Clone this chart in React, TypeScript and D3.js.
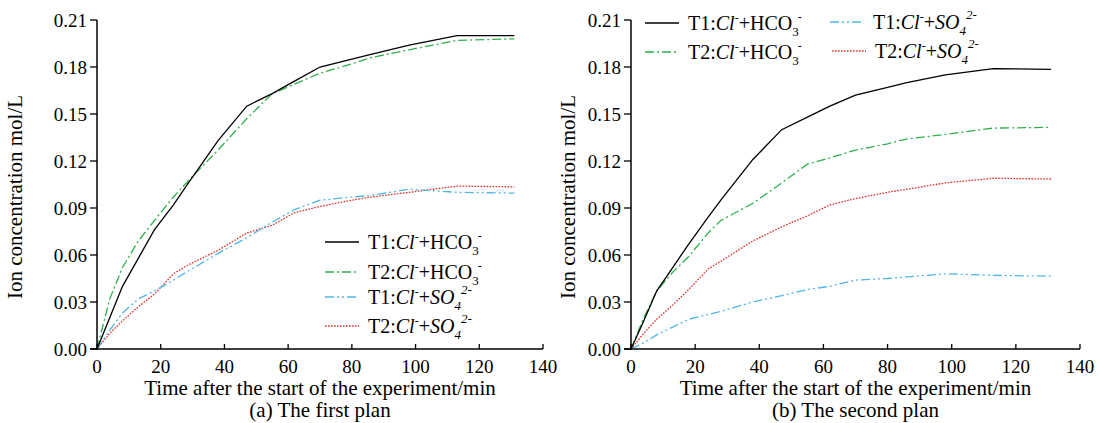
import React from "react";
import * as d3 from "d3";

const times = [0, 4, 8, 13, 18, 24, 28, 38, 47, 55, 62, 70, 80, 86, 98, 113, 131];

const aT1HCO3 = [0, 0.020, 0.040, 0.058, 0.076, 0.092, 0.104, 0.133, 0.155, 0.163, 0.171, 0.180, 0.185, 0.188, 0.194, 0.200, 0.200];
const aT2HCO3 = [0, 0.032, 0.052, 0.069, 0.082, 0.097, 0.106, 0.127, 0.147, 0.163, 0.169, 0.176, 0.182, 0.186, 0.191, 0.197, 0.198];
const aT1SO4 = [0, 0.012, 0.023, 0.032, 0.037, 0.044, 0.049, 0.061, 0.071, 0.081, 0.089, 0.095, 0.097, 0.098, 0.102, 0.100, 0.0995];
const aT2SO4 = [0, 0.010, 0.018, 0.027, 0.035, 0.048, 0.053, 0.063, 0.074, 0.079, 0.087, 0.091, 0.095, 0.097, 0.100, 0.104, 0.1035];

const bT1HCO3 = [0, 0.018, 0.037, 0.052, 0.067, 0.084, 0.095, 0.121, 0.140, 0.148, 0.155, 0.162, 0.167, 0.170, 0.175, 0.179, 0.1785];
const bT2HCO3 = [0, 0.020, 0.037, 0.049, 0.059, 0.074, 0.082, 0.093, 0.106, 0.118, 0.122, 0.127, 0.131, 0.134, 0.137, 0.141, 0.1415];
const bT1SO4 = [0, 0.004, 0.009, 0.014, 0.019, 0.022, 0.024, 0.030, 0.034, 0.038, 0.040, 0.044, 0.045, 0.046, 0.048, 0.047, 0.0465];
const bT2SO4 = [0, 0.010, 0.019, 0.028, 0.038, 0.051, 0.056, 0.069, 0.078, 0.085, 0.092, 0.096, 0.100, 0.102, 0.106, 0.109, 0.1085];

const xTicks = [0, 20, 40, 60, 80, 100, 120, 140];
const yTicks = [0, 0.03, 0.06, 0.09, 0.12, 0.15, 0.18, 0.21];

const FONT = "'Liberation Serif', 'Times New Roman', serif";

const styles = {
  t1hco3: { stroke: "#000000", dash: "" },
  t2hco3: { stroke: "#2db04b", dash: "9,3,2,3" },
  t1so4: { stroke: "#4fb6e6", dash: "9,3,2,3,2,3" },
  t2so4: { stroke: "#e0302c", dash: "1.6,1.4" },
};

type Key = keyof typeof styles;

function LegendLabel({ x, y, t, ion }: { x: number; y: number; t: string; ion: "hco3" | "so4" }) {
  if (ion === "hco3") {
    return (
      <text x={x} y={y} fontSize={20} fontFamily={FONT} fill="#000">
        <tspan>{t}:</tspan>
        <tspan fontStyle="italic">Cl</tspan>
        <tspan dy={-8} fontSize={12}>-</tspan>
        <tspan dy={8}>+HCO</tspan>
        <tspan dy={6} fontSize={13}>3</tspan>
        <tspan dy={-15} dx={-1} fontSize={12}>-</tspan>
      </text>
    );
  }
  return (
    <text x={x} y={y} fontSize={20} fontFamily={FONT} fill="#000">
      <tspan>{t}:</tspan>
      <tspan fontStyle="italic">Cl</tspan>
      <tspan dy={-8} fontSize={12}>-</tspan>
      <tspan dy={8}>+</tspan>
      <tspan fontStyle="italic">SO</tspan>
      <tspan dy={6} fontSize={13} fontStyle="italic">4</tspan>
      <tspan dy={-16} fontSize={13} fontStyle="italic">2-</tspan>
    </text>
  );
}

function Panel({
  x0,
  x1,
  series,
  legend,
  subtitle,
  yTitleX,
}: {
  x0: number;
  x1: number;
  series: { key: Key; values: number[] }[];
  legend: { key: Key; t: string; ion: "hco3" | "so4"; lx: number; ly: number }[];
  subtitle: string;
  yTitleX: number;
}) {
  const xScale = d3.scaleLinear().domain([0, 140]).range([x0, x1]);
  const yScale = d3.scaleLinear().domain([0, 0.21]).range([349, 20]);
  const line = d3
    .line<[number, number]>()
    .x((d) => xScale(d[0]))
    .y((d) => yScale(d[1]));
  const cx = (x0 + x1) / 2;
  return (
    <g>
      {series.map((s) => (
        <path
          key={s.key}
          d={line(times.map((t, i) => [t, s.values[i]] as [number, number])) || ""}
          fill="none"
          stroke={styles[s.key].stroke}
          strokeWidth={1.3}
          strokeDasharray={styles[s.key].dash}
        />
      ))}
      {/* axes */}
      <line x1={x0} x2={x0} y1={yScale(0.21)} y2={yScale(0) + 1} stroke="#000" strokeWidth={1.5} />
      <line x1={x0 - 7} x2={x1} y1={yScale(0)} y2={yScale(0)} stroke="#000" strokeWidth={1.5} />
      {yTicks.map((v) => (
        <g key={v}>
          <line x1={x0 - 7} x2={x0} y1={yScale(v)} y2={yScale(v)} stroke="#000" strokeWidth={1.3} />
          <text
            x={x0 - 10}
            y={yScale(v)}
            dy="0.35em"
            textAnchor="end"
            fontSize={19}
            fontFamily={FONT}
            fill="#000"
          >
            {d3.format(".2f")(v)}
          </text>
        </g>
      ))}
      {xTicks.map((v) => (
        <g key={v}>
          <line x1={xScale(v)} x2={xScale(v)} y1={yScale(0)} y2={yScale(0) - 5} stroke="#000" strokeWidth={1.3} />
          <text x={xScale(v)} y={373} textAnchor="middle" fontSize={19} fontFamily={FONT} fill="#000">
            {v}
          </text>
        </g>
      ))}
      <text x={cx} y={395} textAnchor="middle" fontSize={21} fontFamily={FONT} fill="#000">
        Time after the start of the experiment/min
      </text>
      <text x={cx} y={417} textAnchor="middle" fontSize={21} fontFamily={FONT} fill="#000">
        {subtitle}
      </text>
      <text
        transform={`translate(${yTitleX},197) rotate(-90)`}
        textAnchor="middle"
        dy="0.35em"
        fontSize={21}
        fontFamily={FONT}
        fill="#000"
      >
        Ion concentration mol/L
      </text>
      {legend.map((l) => (
        <g key={l.key}>
          <line
            x1={l.lx}
            x2={l.lx + 34}
            y1={l.ly}
            y2={l.ly}
            stroke={styles[l.key].stroke}
            strokeWidth={1.3}
            strokeDasharray={styles[l.key].dash}
          />
          <LegendLabel x={l.lx + 43} y={l.ly + 7} t={l.t} ion={l.ion} />
        </g>
      ))}
    </g>
  );
}

export default function App() {
  return (
    <div style={{ position: "absolute", left: 0, top: 0 }}>
      <svg width={1100} height={423} style={{ display: "block", background: "#fff" }}>
        <Panel
          x0={97}
          x1={543}
          yTitleX={15}
          subtitle="(a) The first plan"
          series={[
            { key: "t2so4", values: aT2SO4 },
            { key: "t1so4", values: aT1SO4 },
            { key: "t2hco3", values: aT2HCO3 },
            { key: "t1hco3", values: aT1HCO3 },
          ]}
          legend={[
            { key: "t1hco3", t: "T1", ion: "hco3", lx: 325, ly: 242 },
            { key: "t2hco3", t: "T2", ion: "hco3", lx: 325, ly: 272 },
            { key: "t1so4", t: "T1", ion: "so4", lx: 325, ly: 297 },
            { key: "t2so4", t: "T2", ion: "so4", lx: 325, ly: 326 },
          ]}
        />
        <Panel
          x0={631}
          x1={1080}
          yTitleX={568}
          subtitle="(b) The second plan"
          series={[
            { key: "t2so4", values: bT2SO4 },
            { key: "t1so4", values: bT1SO4 },
            { key: "t2hco3", values: bT2HCO3 },
            { key: "t1hco3", values: bT1HCO3 },
          ]}
          legend={[
            { key: "t1hco3", t: "T1", ion: "hco3", lx: 645, ly: 23 },
            { key: "t2hco3", t: "T2", ion: "hco3", lx: 645, ly: 52 },
            { key: "t1so4", t: "T1", ion: "so4", lx: 830, ly: 22 },
            { key: "t2so4", t: "T2", ion: "so4", lx: 832, ly: 51 },
          ]}
        />
      </svg>
    </div>
  );
}
